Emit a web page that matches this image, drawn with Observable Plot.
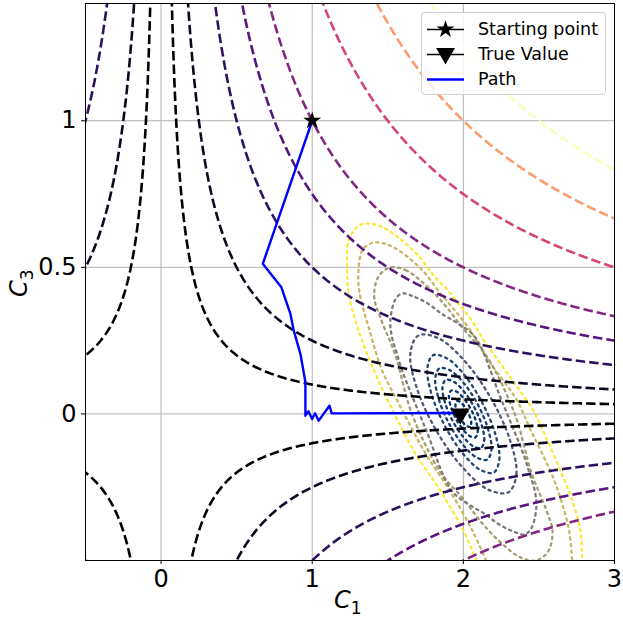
<!DOCTYPE html>
<html><head><meta charset="utf-8">
<script src="https://cdn.jsdelivr.net/npm/d3@7"></script>
<script src="https://cdn.jsdelivr.net/npm/@observablehq/plot@0.6"></script>
<style>
body{margin:0;background:#fff;}
#wrap{position:relative;width:623px;height:624px;font-family:"DejaVu Sans",sans-serif;overflow:hidden;}
.lab{position:absolute;font-size:24px;line-height:24px;color:#000;white-space:nowrap;}
.lab i{font-style:italic;}
.lab .sb{position:relative;top:6px;font-size:17px;}
#legend{position:absolute;left:421px;top:12px;width:185px;height:83px;box-sizing:border-box;border:1px solid #d0d0d0;border-radius:4px;background:rgba(255,255,255,0.8);}
#legend .row{position:absolute;left:0;height:25px;width:100%;}
#legend .txt{position:absolute;left:56px;top:2px;font-size:17.5px;line-height:20px;}
#legend svg{position:absolute;left:0;top:0;}
</style></head><body><div id="wrap"></div>
<script>
// ---- data ----
const xTicks = [0, 1, 2, 3];
const yTicks = [0, 0.5, 1];
// levels of the dashed contour lines of C1*C3
const levels = [-1, -0.75, -0.5, -0.25, -0.1, 0.1, 0.25, 0.5, 0.75, 1, 1.5, 2, 2.5];
const startPoint = [{x: 1.0, y: 1.0}];
const trueValue = [{x: 1.98, y: 0.0}];
const pathX = [1.0, 0.673, 0.796, 0.856, 0.878, 0.922, 0.955, 0.955, 0.975, 0.999, 1.019, 1.043, 1.114, 1.129, 1.97];
const pathY = [1.0, 0.512, 0.432, 0.341, 0.284, 0.205, 0.108, -0.006, 0.009, -0.017, 0.002, -0.023, 0.028, 0.002, 0.003];
// dotted loss contours, outer to inner
const e1 = [[2.086,-0.5],[2.0,-0.398],[1.848,-0.262],[1.683,-0.135],[1.517,0.028],[1.418,0.137],[1.33,0.25],[1.286,0.318],[1.241,0.41],[1.231,0.5],[1.241,0.591],[1.308,0.642],[1.385,0.649],[1.484,0.632],[1.595,0.591],[1.702,0.54],[1.815,0.465],[1.901,0.42],[1.967,0.376],[2.058,0.318],[2.124,0.26],[2.311,0.124],[2.463,0.011],[2.556,-0.091],[2.661,-0.217],[2.728,-0.306],[2.774,-0.398],[2.787,-0.5]];
const e2 = [[2.15,-0.5],[2.06,-0.398],[1.91,-0.262],[1.75,-0.135],[1.58,0.028],[1.462,0.148],[1.418,0.216],[1.374,0.295],[1.341,0.352],[1.308,0.432],[1.308,0.5],[1.33,0.557],[1.38,0.58],[1.44,0.585],[1.539,0.568],[1.661,0.523],[1.749,0.478],[1.835,0.42],[1.925,0.364],[2.033,0.295],[2.17,0.18],[2.35,0.05],[2.45,-0.06],[2.58,-0.2],[2.65,-0.3],[2.70,-0.4],[2.72,-0.5]];
const e3 = [[1.52,0.50],[1.62,0.49],[1.75,0.44],[1.88,0.37],[2.0,0.29],[2.15,0.2],[2.34,0.0],[2.45,-0.2],[2.55,-0.33],[2.59,-0.40],[2.56,-0.47],[2.48,-0.50],[2.38,-0.49],[2.25,-0.44],[2.12,-0.37],[2.0,-0.29],[1.85,-0.2],[1.66,0.0],[1.55,0.2],[1.45,0.33],[1.41,0.40],[1.44,0.47]];
const e4 = [[1.595,0.411],[1.683,0.398],[1.77,0.375],[1.859,0.341],[1.969,0.307],[2.079,0.261],[2.25,0.05],[2.405,-0.148],[2.439,-0.205],[2.472,-0.261],[2.483,-0.318],[2.45,-0.39],[2.405,-0.411],[2.317,-0.398],[2.23,-0.375],[2.141,-0.341],[2.031,-0.307],[1.921,-0.261],[1.75,-0.05],[1.595,0.148],[1.561,0.205],[1.528,0.261],[1.517,0.318],[1.55,0.39]];
const e5 = [[2.299,-0.267],[2.351,-0.204],[2.307,-0.087],[2.182,0.054],[2.008,0.181],[1.832,0.259],[1.701,0.267],[1.649,0.204],[1.693,0.087],[1.818,-0.054],[1.992,-0.181],[2.168,-0.259]];
const e6 = [[2.201,-0.200],[2.238,-0.156],[2.212,-0.070],[2.129,0.034],[2.011,0.130],[1.890,0.190],[1.799,0.200],[1.762,0.156],[1.788,0.070],[1.871,-0.034],[1.989,-0.130],[2.110,-0.190]];
const e7 = [[2.157,-0.156],[2.186,-0.122],[2.165,-0.055],[2.101,0.027],[2.009,0.101],[1.914,0.148],[1.843,0.156],[1.814,0.122],[1.835,0.055],[1.899,-0.027],[1.991,-0.101],[2.086,-0.148]];
const e8 = [[2.117,-0.116],[2.138,-0.090],[2.123,-0.041],[2.075,0.020],[2.006,0.075],[1.936,0.110],[1.883,0.116],[1.862,0.090],[1.877,0.041],[1.925,-0.020],[1.994,-0.075],[2.064,-0.110]];
const e9 = [[2.080,-0.080],[2.095,-0.062],[2.085,-0.028],[2.052,0.014],[2.004,0.052],[1.956,0.076],[1.920,0.080],[1.905,0.062],[1.915,0.028],[1.948,-0.014],[1.996,-0.052],[2.044,-0.076]];
const e10 = [[2.044,-0.044],[2.052,-0.034],[2.047,-0.015],[2.028,0.007],[2.002,0.029],[1.976,0.042],[1.956,0.044],[1.948,0.034],[1.953,0.015],[1.972,-0.007],[1.998,-0.029],[2.024,-0.042]];

// ---- styles ----
const lossContours = [
  {pts: e1, color: "#fde838", closed: false},
  {pts: e2, color: "#c9b766", closed: false},
  {pts: e3, color: "#a69c74", closed: true},
  {pts: e4, color: "#7c7b78", closed: true},
  {pts: e5, color: "#4d5873", closed: true},
  {pts: e6, color: "#244676", closed: true},
  {pts: e7, color: "#173f73", closed: true},
  {pts: e8, color: "#0d3970", closed: true},
  {pts: e9, color: "#05346e", closed: true},
  {pts: e10, color: "#00306b", closed: true}
];
const magma = v => d3.interpolateMagma((Math.abs(v) - 0.1) / 2.4);

const pathData = pathX.map((x, i) => ({x, y: pathY[i]}));

const marks = [
  Plot.gridX(xTicks, {stroke: "#b0b0b0", strokeOpacity: 1, strokeWidth: 1}),
  Plot.gridY(yTicks, {stroke: "#b0b0b0", strokeOpacity: 1, strokeWidth: 1}),
  ...lossContours.map(c => Plot.line(c.pts, {
    x: d => d[0], y: d => d[1],
    curve: c.closed ? "catmull-rom-closed" : "catmull-rom",
    stroke: c.color, strokeWidth: 2.3, strokeDasharray: "2.3,4.2", clip: true
  })),
  ...levels.map(v => Plot.contour({
    x1: -0.62, x2: 3.12, y1: -0.62, y2: 1.52,
    value: (x, y) => x * y,
    thresholds: [v], pixelSize: 1,
    fill: "none", stroke: magma(v), strokeWidth: 2.6, strokeDasharray: "9.5,4",
    clip: true
  })),
  Plot.line(pathData, {x: "x", y: "y", stroke: "#0000ff", strokeWidth: 2.4}),
  Plot.dot(startPoint, {x: "x", y: "y", symbol: "star", fill: "black", stroke: "none", r: 5.6}),
  Plot.dot(trueValue, {x: "x", y: "y", symbol: "triangle", rotate: 180, fill: "black", stroke: "none", r: 7}),
  Plot.frame({stroke: "black", strokeWidth: 1}),
  Plot.axisX(xTicks, {tickSize: 4, tickPadding: 5, fontSize: 24, label: null, tickFormat: d => String(d)}),
  Plot.axisY(yTicks, {tickSize: 4, tickPadding: 5, fontSize: 24, label: null, tickFormat: d => String(d)})
];

const chart = Plot.plot({
  width: 623, height: 624,
  marginLeft: 85, marginRight: 9, marginTop: 3, marginBottom: 64,
  x: {domain: [-0.5, 3]},
  y: {domain: [-0.5, 1.4]},
  style: {fontFamily: "DejaVu Sans", background: "white", color: "black", overflow: "visible"},
  marks
});
const wrap = document.getElementById("wrap");
wrap.appendChild(chart);

// axis labels
const xl = document.createElement("div");
xl.className = "lab";
xl.style.left = "334px"; xl.style.top = "588px";
xl.innerHTML = "<i>C</i><span class='sb'>1</span>";
wrap.appendChild(xl);
const yl = document.createElement("div");
yl.className = "lab";
yl.style.left = "7px"; yl.style.top = "297px";
yl.style.transformOrigin = "left top";
yl.style.transform = "rotate(-90deg)";
yl.innerHTML = "<i>C</i><span class='sb'>3</span>";
wrap.appendChild(yl);

// legend
const legendItems = ["Starting point", "True Value", "Path"];
const lg = document.createElement("div");
lg.id = "legend";
wrap.appendChild(lg);
legendItems.forEach((name, i) => {
  const row = document.createElement("div");
  row.className = "row";
  row.style.top = (4 + i * 25) + "px";
  const svg = d3.create("svg").attr("width", 50).attr("height", 25);
  if (i < 2) {
    svg.append("line").attr("x1", 5).attr("x2", 42).attr("y1", 12.5).attr("y2", 12.5).attr("stroke", "black").attr("stroke-width", 1.5);
    const sym = i === 0 ? d3.symbol(d3.symbolStar, Math.PI * 5.6 * 5.6) : d3.symbol(d3.symbolTriangle, Math.PI * 7 * 7);
    svg.append("path").attr("d", sym()).attr("fill", "black")
      .attr("transform", i === 0 ? "translate(23.5,12.5)" : "translate(23.5,11.5) rotate(180)");
  } else {
    svg.append("line").attr("x1", 5).attr("x2", 42).attr("y1", 12.5).attr("y2", 12.5).attr("stroke", "#0000ff").attr("stroke-width", 2.4);
  }
  row.appendChild(svg.node());
  const t = document.createElement("div");
  t.className = "txt";
  t.textContent = name;
  row.appendChild(t);
  lg.appendChild(row);
});
</script></body></html>
